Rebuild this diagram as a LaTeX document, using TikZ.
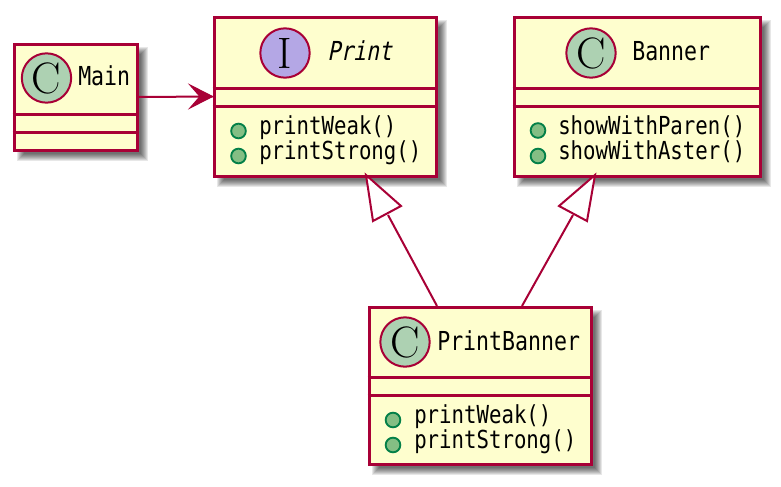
\documentclass[tikz,border=0pt]{standalone}
\usepackage{fontspec}
\newfontfamily\monoT[FakeStretch=0.825]{DejaVu Sans Mono}
\newfontfamily\monoM[FakeStretch=0.835]{DejaVu Sans Mono}
\newfontfamily\monoI[FakeStretch=0.825,FakeSlant=0.2]{DejaVu Sans Mono}
\definecolor{umlred}{HTML}{A80036}
\definecolor{umlfill}{HTML}{FEFECE}
\definecolor{umlC}{HTML}{ADD1B2}
\definecolor{umlI}{HTML}{B4A7E5}
\definecolor{umlplus}{HTML}{84BE84}
\definecolor{umlplusd}{HTML}{038048}
\tikzset{
  x=0.75pt,y=-0.75pt,
  box/.style={draw=umlred,fill=umlfill,line width=2.25pt,rectangle,inner sep=0pt},
  rule/.style={draw=umlred,line width=2.25pt},
  spot/.style={circle,draw=umlred,line width=1.5pt,minimum size=37pt,inner sep=0pt,font=\fontsize{33}{33}\selectfont,text=black},
  title/.style={anchor=base west,inner sep=0pt,font=\fontsize{19.6}{20}\monoT,text=black},
  ititle/.style={anchor=base west,inner sep=0pt,font=\fontsize{19.6}{20}\monoI,text=black},
  member/.style={anchor=base west,inner sep=0pt,font=\fontsize{18.6}{20}\monoM,text=black},
  plus/.style={circle,draw=umlplusd,fill=umlplus,line width=1.4pt,minimum size=11pt,inner sep=0pt},
  conn/.style={draw=umlred,line width=1.5pt},
  hollow/.style={draw=umlred,fill=white,line width=1.5pt,line join=miter},
  solidhead/.style={draw=umlred,fill=umlred,line width=0.8pt,line join=miter},
}
\newcommand{\softshadow}[4]{%
  \foreach \g in {4,3,2,1,0,-1,-2,-3}{
    \fill[black,opacity=0.095] (#1+7-\g,#2+7-\g) rectangle (#3+7+\g,#4+7+\g);
  }
}
\begin{document}
\begin{tikzpicture}
\useasboundingbox (0,0) rectangle (781,486);
\fill[white] (0,0) rectangle (781,486);
% shadows
\softshadow{14}{44}{137}{150}
\softshadow{214}{17}{436}{176}
\softshadow{514}{17}{760}{176}
\softshadow{369}{307}{591}{464}
% boxes
\node[box,minimum width=92.25pt,minimum height=79.5pt] (main) at (75.5,97) {};
\node[box,minimum width=166.5pt,minimum height=119.25pt] (print) at (325,96.5) {};
\node[box,minimum width=184.5pt,minimum height=119.25pt] (banner) at (637,96.5) {};
\node[box,minimum width=166.5pt,minimum height=117.75pt] (pb) at (480,385.5) {};
% dividers
\draw[rule] (main.west |- 0,114) -- (main.east |- 0,114);
\draw[rule] (main.west |- 0,132) -- (main.east |- 0,132);
\draw[rule] (print.west |- 0,88) -- (print.east |- 0,88);
\draw[rule] (print.west |- 0,106) -- (print.east |- 0,106);
\draw[rule] (banner.west |- 0,88) -- (banner.east |- 0,88);
\draw[rule] (banner.west |- 0,106) -- (banner.east |- 0,106);
\draw[rule] (pb.west |- 0,377) -- (pb.east |- 0,377);
\draw[rule] (pb.west |- 0,395) -- (pb.east |- 0,395);
% spots
\node[spot,fill=umlC] (s1) at (46.5,78) {C};
\node[spot,fill=umlI] (s2) at (285,53) {I};
\node[spot,fill=umlC] (s3) at (591,53) {C};
\node[spot,fill=umlC] (s4) at (405,342) {C};
% titles
\node[title] (t1) at (78,85) {Main};
\node[ititle] (t2) at (327,60) {Print};
\node[title] (t3) at (632,60) {Banner};
\node[title] (t4) at (437,350) {PrintBanner};
% members
\node[plus] (p1) at (238.5,131) {};
\node[plus] (p2) at (238.5,156) {};
\node[member] (m1) at (259,134) {printWeak()};
\node[member] (m2) at (259,159.5) {printStrong()};
\node[plus] (p3) at (538,130.5) {};
\node[plus] (p4) at (538,156) {};
\node[member] (m3) at (558,134) {showWithParen()};
\node[member] (m4) at (558,159.5) {showWithAster()};
\node[plus] (p5) at (393,420) {};
\node[plus] (p6) at (393,445) {};
\node[member] (m5) at (414,423) {printWeak()};
\node[member] (m6) at (414,448.5) {printStrong()};
% connectors
\coordinate (ph) at (366,175);
\coordinate (bh) at (595,175);
\coordinate (pn) at (388,215);
\coordinate (bn) at (573,215);
\coordinate (pa) at (437,306);
\coordinate (pc) at (522,306);
\draw[conn] (pa) -- (pn);
\draw[conn] (pc) -- (bn);
\draw[hollow] (ph) -- (401,206) -- (373,221) -- cycle;
\draw[hollow] (bh) -- (559,206) -- (587,221) -- cycle;
\draw[conn] (main.east) -- (print.west);
\draw[solidhead] (print.west) -- (190,85) -- (200,96.5) -- (190,108) -- cycle;
\end{tikzpicture}
\end{document}
